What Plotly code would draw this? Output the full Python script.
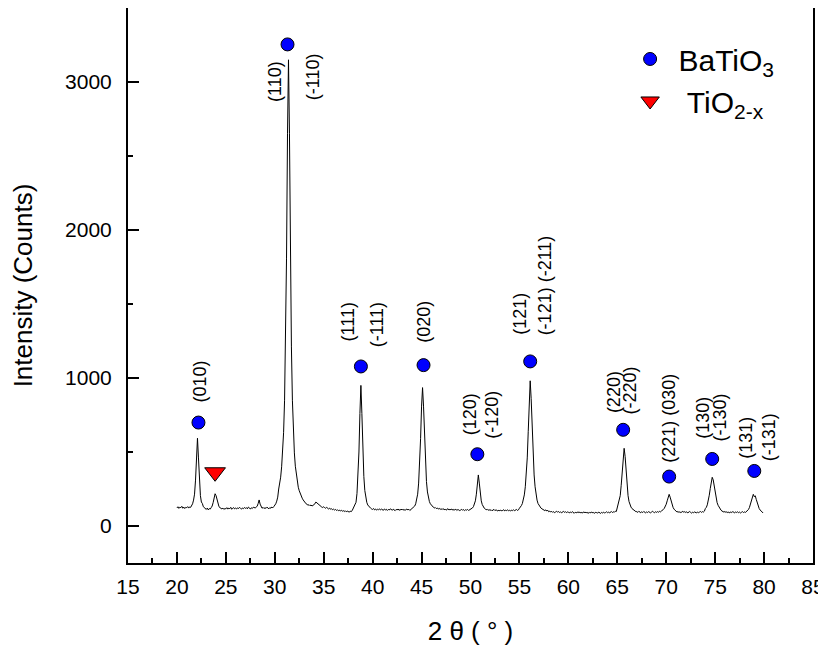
import plotly.graph_objects as go

FONT = "Arial, Liberation Sans, Helvetica, sans-serif"

# XRD scan: 2-theta from 20.0 deg in 0.1 deg steps
theta_start = 20.0
theta_step = 0.1
intensity = [
    122, 130, 119, 127, 124, 133, 120, 128, 118, 126,   # 20
    124, 131, 121, 129, 126, 136, 150, 175, 215, 310,   # 21
    470, 593, 460, 300, 205, 162, 152, 130, 122, 116,   # 22
    112, 121, 109, 118, 114, 124, 135, 158, 195, 218,   # 23
    205, 172, 148, 130, 124, 118, 115, 121, 112, 118,   # 24
    116, 124, 114, 121, 117, 126, 113, 120, 124, 116,   # 25
    121, 115, 123, 118, 126, 119, 114, 122, 117, 125,   # 26
    119, 124, 116, 128, 121, 115, 123, 118, 127, 122,   # 27
    122, 128, 133, 152, 176, 148, 128, 120, 126, 118,   # 28
    124, 119, 127, 121, 116, 125, 120, 128, 123, 131,   # 29
    140, 150, 168, 195, 250, 285, 330, 400, 490, 630,   # 30
    850, 1210, 1810, 2650, 3150, 2650, 1810, 1210, 850, 630,  # 31
    494, 404, 342, 298, 262, 238, 218, 200, 188, 176,   # 32
    165, 158, 150, 146, 140, 144, 137, 142, 135, 139,   # 33
    142, 150, 162, 156, 148, 140, 136, 132, 128, 125,   # 34
    130, 124, 120, 126, 118, 115, 121, 113, 117, 110,   # 35
    114, 108, 112, 105, 110, 103, 108, 101, 106, 100,   # 36
    104, 98, 103, 96, 101, 99, 94, 100, 97, 103,        # 37
    118, 125, 138, 160, 220, 330, 500, 760, 950, 760,   # 38
    500, 335, 240, 190, 160, 142, 133, 125, 120, 115,   # 39
    112, 118, 109, 115, 107, 113, 110, 116, 108, 114,   # 40
    111, 106, 115, 109, 113, 105, 112, 108, 116, 110,   # 41
    107, 113, 109, 104, 112, 108, 115, 106, 111, 109,   # 42
    114, 107, 112, 106, 110, 115, 108, 113, 105, 111,   # 43
    114, 118, 124, 135, 150, 175, 215, 290, 420, 590,   # 44
    810, 935, 810, 590, 420, 300, 230, 190, 165, 150,   # 45
    140, 133, 127, 122, 125, 118, 121, 115, 119, 113,   # 46
    116, 111, 118, 109, 114, 107, 112, 117, 108, 113,   # 47
    110, 115, 106, 112, 108, 114, 105, 111, 109, 104,   # 48
    108, 113, 106, 111, 104, 110, 107, 112, 105, 109,   # 49
    112, 115, 122, 131, 145, 170, 215, 290, 345, 290,   # 50
    215, 170, 145, 130, 121, 115, 110, 113, 106, 111,   # 51
    105, 110, 103, 108, 112, 104, 109, 106, 101, 107,   # 52
    103, 108, 101, 106, 110, 102, 107, 104, 109, 103,   # 53
    106, 101, 108, 104, 110, 103, 107, 112, 105, 109,   # 54
    120, 128, 138, 152, 175, 210, 265, 345, 460, 640,   # 55
    860, 981, 860, 640, 460, 345, 265, 210, 175, 152,   # 56
    138, 128, 121, 116, 112, 108, 104, 109, 101, 106,   # 57
    96, 101, 94, 99, 92, 97, 90, 95, 100, 93,           # 58
    98, 91, 96, 89, 94, 99, 92, 97, 90, 95,             # 59
    93, 88, 95, 90, 97, 91, 86, 93, 89, 94,             # 60
    90, 96, 88, 93, 87, 92, 95, 89, 94, 87,             # 61
    92, 86, 93, 89, 95, 88, 91, 86, 93, 90,             # 62
    87, 94, 89, 85, 92, 88, 94, 87, 91, 96,             # 63
    90, 95, 88, 93, 98, 91, 96, 93, 100, 98,            # 64
    128, 140, 165, 205, 275, 375, 470, 525, 470, 375,   # 65
    275, 205, 165, 140, 128, 118, 112, 106, 101, 97,    # 66
    97, 92, 99, 94, 90, 96, 91, 98, 93, 89,             # 67
    95, 91, 97, 92, 89, 94, 100, 93, 90, 96,            # 68
    92, 97, 93, 99, 95, 101, 105, 111, 119, 131,        # 69
    147, 170, 198, 214, 195, 165, 142, 126, 114, 105,   # 70
    100, 94, 98, 92, 96, 90, 95, 99, 93, 97,            # 71
    91, 96, 89, 94, 98, 92, 87, 93, 90, 95,             # 72
    92, 88, 95, 90, 94, 98, 92, 97, 94, 100,            # 73
    118, 126, 143, 168, 208, 253, 303, 329, 312, 275,   # 74
    225, 185, 158, 140, 126, 115, 107, 101, 97, 94,     # 75
    98, 92, 96, 90, 94, 89, 95, 91, 97, 93,             # 76
    89, 95, 91, 96, 90, 94, 88, 93, 97, 91,             # 77
    95, 92, 98, 104, 111, 124, 145, 172, 200, 214,      # 78
    198, 204, 180, 152, 130, 118, 108, 100, 94, 88,     # 79
]
two_theta = [round(theta_start + theta_step * i, 1) for i in range(len(intensity))]

# phase markers
batio3_x = [22.2, 31.3, 38.8, 45.2, 50.7, 56.1, 65.6, 70.3, 74.7, 79.0]
batio3_y = [699, 3254, 1078, 1087, 485, 1112, 650, 334, 453, 372]
tio2_x = [23.9]
tio2_y = [363]

# Miller index labels
hkl_text = ["(010)", "(110)", "(-110)", "(111)", "(-111)", "(020)",
            "(120)", "(-120)", "(121)", "(-121) (-211)", "(220)", "(-220)",
            "(221) (030)", "(130)", "(-130)", "(131)", "(-131)"]
hkl_x = [22.36, 30.02, 33.85, 37.5, 40.4, 45.3,
         49.95, 52.2, 55.06, 57.6, 64.67, 66.3,
         70.28, 73.8, 75.5, 78.2, 80.5]
hkl_y = [977, 3007, 3035, 1377, 1360, 1377,
         755, 752, 1434, 1625, 905, 916,
         731, 734, 734, 599, 599]

x_ticks = [15, 20, 25, 30, 35, 40, 45, 50, 55, 60, 65, 70, 75, 80, 85]
y_ticks = [0, 1000, 2000, 3000]

fig = go.Figure()
fig.add_trace(go.Scatter(
    x=two_theta, y=intensity, mode="lines",
    line=dict(color="black", width=1), showlegend=False, hoverinfo="skip"))
fig.add_trace(go.Scatter(
    x=batio3_x, y=batio3_y, mode="markers", name="\u00a0BaTiO<sub>3</sub>",
    marker=dict(symbol="circle", size=13, color="#0000FF",
                line=dict(color="black", width=1))))
fig.add_trace(go.Scatter(
    x=tio2_x, y=tio2_y, mode="markers", name="\u00a0\u00a0TiO<sub>2-x</sub>",
    marker=dict(symbol="triangle-down", size=18, color="#FF0000",
                line=dict(color="black", width=1))))

for t, x, y in zip(hkl_text, hkl_x, hkl_y):
    fig.add_annotation(x=x, y=y, text=t, textangle=-90, showarrow=False,
                       font=dict(size=18, color="black", family=FONT))

# page body has an 8px margin: figure is 818x640 placed at (8, 8)
fig.update_layout(
    width=818, height=640,
    margin=dict(l=120, r=13, t=0, b=85, autoexpand=False),
    plot_bgcolor="white", paper_bgcolor="white",
    font=dict(family=FONT, color="black"),
    legend=dict(x=0.733, y=0.955, xanchor="left", yanchor="top",
                font=dict(size=30, family=FONT, color="black"),
                bgcolor="rgba(0,0,0,0)", borderwidth=0),
)
fig.update_xaxes(
    range=[15, 85], tickvals=x_ticks, ticks="inside", ticklen=11, tickwidth=1.5,
    tickcolor="black", showline=True, linecolor="black", linewidth=2, mirror=True,
    showgrid=False, zeroline=False, tickfont=dict(size=21), ticklabelstandoff=4,
    minor=dict(ticks="inside", ticklen=5, dtick=2.5, tick0=15, tickcolor="black",
               tickwidth=1.5, showgrid=False),
    title=dict(text="2 θ ( ° )", font=dict(size=26), standoff=25),
    automargin=False)
fig.update_yaxes(
    range=[-250, 3500], tickvals=y_ticks, ticks="inside", ticklen=11, tickwidth=1.5,
    tickcolor="black", showline=True, linecolor="black", linewidth=2, mirror=True,
    showgrid=False, zeroline=False, tickfont=dict(size=21), ticklabelstandoff=10,
    minor=dict(ticks="inside", ticklen=5, dtick=500, tick0=0, tickcolor="black",
               tickwidth=1.5, showgrid=False),
    title=dict(text="Intensity (Counts)", font=dict(size=26), standoff=32),
    automargin=False)

fig.write_html("out.html")
